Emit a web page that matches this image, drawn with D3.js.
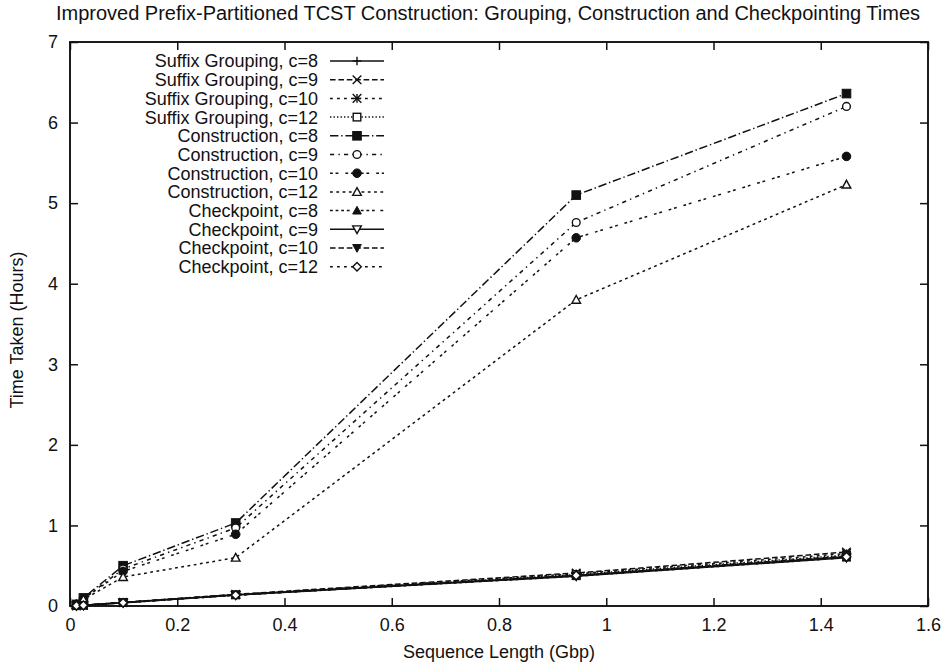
<!DOCTYPE html>
<html>
<head>
<meta charset="utf-8">
<script src="https://cdn.jsdelivr.net/npm/d3@7"></script>
<style>
  html, body { margin: 0; padding: 0; background: #fff; }
  svg text { font-family: "Liberation Sans", Arial, Helvetica, sans-serif; fill: #111; }
</style>
</head>
<body>
<svg id="chart" width="946" height="667"></svg>
<script>
// Sequence lengths (Gbp) of the test inputs
const seqLengths = [0.012, 0.025, 0.099, 0.309, 0.944, 1.448];

// Suffix grouping times (hours)
const groupC8  = [0.005, 0.010, 0.045, 0.140, 0.38, 0.61];
const groupC9  = [0.005, 0.010, 0.045, 0.145, 0.41, 0.67];
const groupC10 = [0.005, 0.010, 0.044, 0.140, 0.40, 0.65];
const groupC12 = [0.005, 0.010, 0.043, 0.140, 0.39, 0.63];

// Tree construction times (hours)
const constrC8  = [0.020, 0.10, 0.50, 1.03, 5.10, 6.36];
const constrC9  = [0.020, 0.09, 0.46, 0.97, 4.76, 6.20];
const constrC10 = [0.020, 0.09, 0.43, 0.89, 4.57, 5.58];
const constrC12 = [0.015, 0.08, 0.36, 0.60, 3.80, 5.23];

// Checkpointing times (hours)
const ckptC8  = [0.004, 0.008, 0.040, 0.135, 0.37, 0.60];
const ckptC9  = [0.004, 0.008, 0.040, 0.135, 0.37, 0.60];
const ckptC10 = [0.004, 0.008, 0.040, 0.135, 0.38, 0.62];
const ckptC12 = [0.004, 0.008, 0.040, 0.135, 0.38, 0.61];

const seriesNames = [
  "Suffix Grouping, c=8", "Suffix Grouping, c=9", "Suffix Grouping, c=10", "Suffix Grouping, c=12",
  "Construction, c=8", "Construction, c=9", "Construction, c=10", "Construction, c=12",
  "Checkpoint, c=8", "Checkpoint, c=9", "Checkpoint, c=10", "Checkpoint, c=12"
];
const seriesValues = [
  groupC8, groupC9, groupC10, groupC12,
  constrC8, constrC9, constrC10, constrC12,
  ckptC8, ckptC9, ckptC10, ckptC12
];

const xTicks = [0, 0.2, 0.4, 0.6, 0.8, 1, 1.2, 1.4, 1.6];
const yTicks = [0, 1, 2, 3, 4, 5, 6, 7];

const titleText = "Improved Prefix-Partitioned TCST Construction: Grouping, Construction and Checkpointing Times";
const xLabel = "Sequence Length (Gbp)";
const yLabel = "Time Taken (Hours)";

// gnuplot-style dash cycle (solid, dashed, short dash, dotted, dash-dot ...)
const u = 1.4;
const dashCycle = [
  null,
  [4, 2],
  [2, 3],
  [1, 1.5],
  [6, 2, 1, 2],
  [3, 3, 1, 3],
  [2, 2, 2, 5],
  [2, 2.5],
  [2, 2, 2, 2, 2, 2, 2, 4]
];
const markerCycle = ["plus", "cross", "star", "boxOpen", "boxFilled", "circleOpen", "circleFilled",
  "triOpen", "triFilled", "itriOpen", "itriFilled", "diamondOpen"];

const svg = d3.select("#chart");
const margin = { left: 70, right: 18, top: 42, bottom: 61 };
const W = 946, H = 667;

const x = d3.scaleLinear().domain([0, 1.6]).range([margin.left, W - margin.right]);
const y = d3.scaleLinear().domain([0, 7]).range([H - margin.bottom, margin.top]);

// title
svg.append("text")
  .attr("x", 488).attr("y", 20)
  .attr("text-anchor", "middle")
  .style("font-size", "20px")
  .text(titleText);

// axes with inward ticks, mirrored on the opposite sides
const tickLen = 8;
const gx = svg.append("g").attr("transform", `translate(0,${y(0)})`)
  .call(d3.axisBottom(x).tickValues(xTicks).tickSizeInner(-tickLen).tickSizeOuter(0).tickPadding(12)
    .tickFormat(d => d3.format("~g")(d)));
const gxTop = svg.append("g").attr("transform", `translate(0,${y(7)})`)
  .call(d3.axisTop(x).tickValues(xTicks).tickSizeInner(-tickLen).tickSizeOuter(0).tickFormat(""));
const gy = svg.append("g").attr("transform", `translate(${x(0)},0)`)
  .call(d3.axisLeft(y).tickValues(yTicks).tickSizeInner(-tickLen).tickSizeOuter(0).tickPadding(12)
    .tickFormat(d3.format("d")));
const gyR = svg.append("g").attr("transform", `translate(${x(1.6)},0)`)
  .call(d3.axisRight(y).tickValues(yTicks).tickSizeInner(-tickLen).tickSizeOuter(0).tickFormat(""));

[gx, gxTop, gy, gyR].forEach(g => {
  g.select(".domain").remove();
  g.selectAll(".tick line").attr("stroke", "#111").attr("stroke-width", 1.5);
  g.selectAll(".tick text").style("font-size", "18px").attr("fill", "#111")
    .style("font-family", "'Liberation Sans', Arial, sans-serif");
});

// plot border
svg.append("rect")
  .attr("x", x(0)).attr("y", y(7))
  .attr("width", x(1.6) - x(0)).attr("height", y(0) - y(7))
  .attr("fill", "none").attr("stroke", "#111").attr("stroke-width", 1.9);

// axis titles
svg.append("text")
  .attr("x", 499).attr("y", 658)
  .attr("text-anchor", "middle").style("font-size", "18px")
  .text(xLabel);
svg.append("text")
  .attr("transform", `translate(23,330) rotate(-90)`)
  .attr("text-anchor", "middle").style("font-size", "18px")
  .text(yLabel);

// marker drawing
function drawMarker(g, type, cx, cy) {
  const s = 4.3;
  const stroke = "#111", sw = 1.4;
  const open = { fill: "#fff", stroke: stroke, "stroke-width": sw };
  const filled = { fill: stroke, stroke: stroke, "stroke-width": 1 };
  const apply = (el, attrs) => { Object.entries(attrs).forEach(([k, v]) => el.attr(k, v)); return el; };
  const line = (x1, y1, x2, y2) => g.append("line").attr("x1", x1).attr("y1", y1).attr("x2", x2).attr("y2", y2)
    .attr("stroke", stroke).attr("stroke-width", sw);
  switch (type) {
    case "plus":
      line(cx - s, cy, cx + s, cy); line(cx, cy - s, cx, cy + s); break;
    case "cross":
      line(cx - s, cy - s, cx + s, cy + s); line(cx - s, cy + s, cx + s, cy - s); break;
    case "star":
      line(cx - s, cy, cx + s, cy); line(cx, cy - s, cx, cy + s);
      line(cx - s, cy - s, cx + s, cy + s); line(cx - s, cy + s, cx + s, cy - s); break;
    case "boxOpen":
      apply(g.append("rect").attr("x", cx - s + 0.5).attr("y", cy - s + 0.5).attr("width", 2 * s - 1).attr("height", 2 * s - 1), open); break;
    case "boxFilled":
      apply(g.append("rect").attr("x", cx - s).attr("y", cy - s).attr("width", 2 * s).attr("height", 2 * s), filled); break;
    case "circleOpen":
      apply(g.append("circle").attr("cx", cx).attr("cy", cy).attr("r", s - 0.4), open); break;
    case "circleFilled":
      apply(g.append("circle").attr("cx", cx).attr("cy", cy).attr("r", s), filled); break;
    case "triOpen":
      apply(g.append("path").attr("d", `M${cx},${cy - s}L${cx + s},${cy + s * 0.8}L${cx - s},${cy + s * 0.8}Z`), open); break;
    case "triFilled":
      apply(g.append("path").attr("d", `M${cx},${cy - s}L${cx + s},${cy + s * 0.8}L${cx - s},${cy + s * 0.8}Z`), filled); break;
    case "itriOpen":
      apply(g.append("path").attr("d", `M${cx},${cy + s}L${cx + s},${cy - s * 0.8}L${cx - s},${cy - s * 0.8}Z`), open); break;
    case "itriFilled":
      apply(g.append("path").attr("d", `M${cx},${cy + s}L${cx + s},${cy - s * 0.8}L${cx - s},${cy - s * 0.8}Z`), filled); break;
    case "diamondOpen":
      apply(g.append("path").attr("d", `M${cx},${cy - s}L${cx + s},${cy}L${cx},${cy + s}L${cx - s},${cy}Z`), open); break;
  }
}

const lineGen = d3.line().x(d => x(d[0])).y(d => y(d[1]));
const plot = svg.append("g");

seriesValues.forEach((vals, i) => {
  const pts = seqLengths.map((s, j) => [s, vals[j]]);
  const dash = dashCycle[i % 9];
  plot.append("path")
    .attr("d", lineGen(pts))
    .attr("fill", "none")
    .attr("stroke", "#111")
    .attr("stroke-width", 1.5)
    .attr("stroke-dasharray", dash ? dash.map(v => v * u).join(",") : null);
  const mg = plot.append("g");
  pts.forEach(p => drawMarker(mg, markerCycle[i], x(p[0]), y(p[1])));
});

// legend
const legend = svg.append("g");
const legTextRight = 318, legX1 = 330, legX2 = 384, legY0 = 61, legStep = 18.7;
seriesNames.forEach((name, i) => {
  const ly = legY0 + i * legStep;
  legend.append("text")
    .attr("x", legTextRight).attr("y", ly)
    .attr("dy", "0.36em")
    .attr("text-anchor", "end")
    .style("font-size", "18px")
    .text(name);
  const dash = dashCycle[i % 9];
  legend.append("line")
    .attr("x1", legX1).attr("x2", legX2).attr("y1", ly).attr("y2", ly)
    .attr("stroke", "#111").attr("stroke-width", 1.5)
    .attr("stroke-dasharray", dash ? dash.map(v => v * u).join(",") : null);
  drawMarker(legend.append("g"), markerCycle[i], (legX1 + legX2) / 2, ly);
});
</script>
</body>
</html>
